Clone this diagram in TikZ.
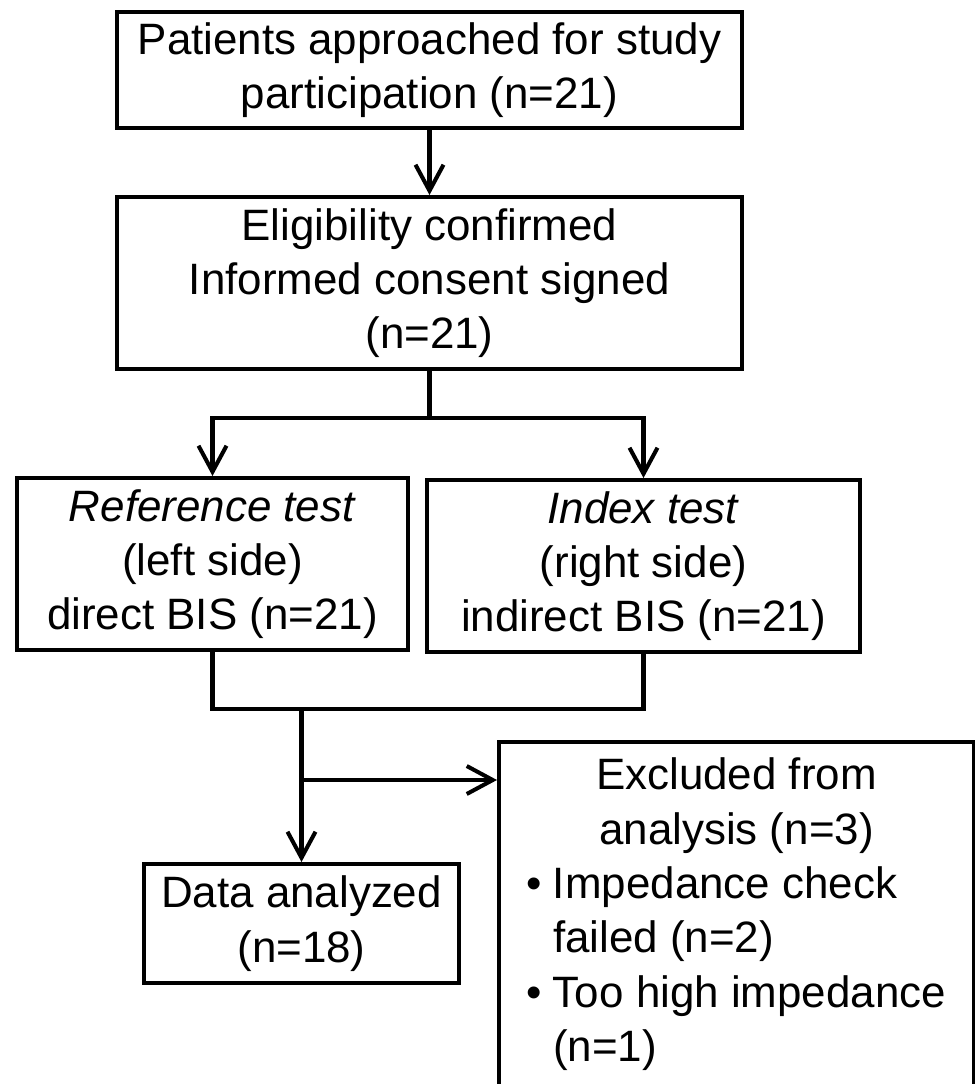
\documentclass[tikz,border=0pt]{standalone}
\usepackage{fontspec}
\setmainfont{Liberation Sans}
\usetikzlibrary{arrows.meta,positioning}
\definecolor{myblack}{RGB}{0,0,0}
\definecolor{mywhite}{RGB}{255,255,255}

\begin{document}
\begin{tikzpicture}[
  x=0.02cm, y=-0.02cm,
  line width=2.3pt,
  mybox/.style={
    draw=myblack,
    rectangle,
    align=center,
    inner sep=0pt,
    font=\fontsize{25pt}{30.9pt}\selectfont
    },
  myarrow/.style={
    -{Straight Barb[length=0.52cm,width=0.56cm]}
  }
]
\useasboundingbox[fill=mywhite] (0,0) rectangle (974,1084);

\node[mybox, minimum width=12.5cm, minimum height=2.32cm]
  (approached) at (429.5,70)
  {Patients approached for study\\participation (n=21)};
\node[mybox, minimum width=12.5cm, minimum height=3.44cm]
  (eligible) at (429.5,283)
  {Eligibility confirmed\\Informed consent signed\\(n=21)};
\node[mybox, minimum width=7.82cm, minimum height=3.44cm]
  (reference) at (212.5,564)
  {\textit{Reference test}\\(left side)\\direct BIS (n=21)};
\node[mybox, minimum width=8.66cm, minimum height=3.44cm]
  (index) at (643.5,566)
  {\textit{Index test}\\(right side)\\indirect BIS (n=21)};
\node[mybox, minimum width=6.32cm, minimum height=2.38cm]
  (analyzed) at (301.5,923.5)
  {Data analyzed\\(n=18)};
\node[mybox, anchor=north west, minimum width=9.5cm, inner ysep=0.32cm]
  (excluded) at (497,740)
  {\parbox[t][7.4cm][t]{9.5cm}{\parskip=0pt
    {\centering Excluded from\\analysis (n=3)\par}
    \raggedright
    \hspace*{0.54cm}\makebox[0.54cm][l]{\textbullet}Impedance check\\
    \hspace*{1.08cm}failed (n=2)\\
    \hspace*{0.54cm}\makebox[0.54cm][l]{\textbullet}Too high impedance\\
    \hspace*{1.08cm}(n=1)}};

% connectors
\coordinate (fork) at (429.5,418);
\coordinate (merge) at (301.5,709);
\coordinate (branch) at (301.5,780);

\draw[myarrow] (approached) -- (eligible);
\draw (eligible) -- (fork);
\draw[myarrow] (fork) -| (reference);
\draw[myarrow] (fork) -| (index);
\draw (reference) |- (merge);
\draw (index) |- (merge);
\draw[myarrow] (merge) -- (analyzed);
\draw[myarrow] (branch) -- (branch -| excluded.west);

\end{tikzpicture}
\end{document}
